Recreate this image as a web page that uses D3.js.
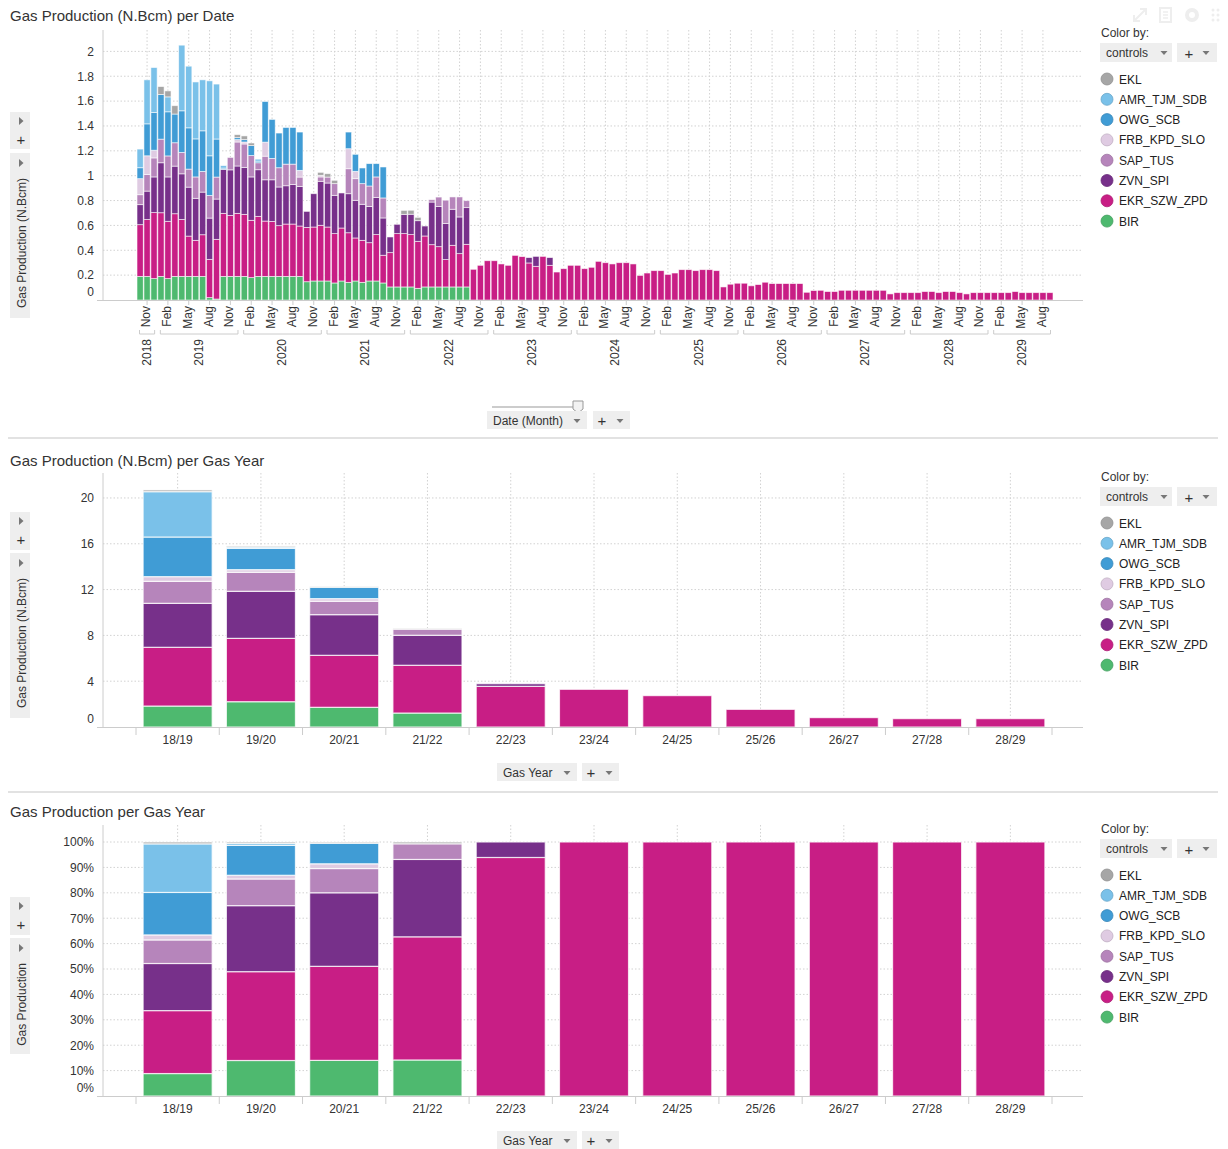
<!DOCTYPE html>
<html>
<head>
<meta charset="utf-8">
<script src="https://cdn.jsdelivr.net/npm/d3@7"></script>
<style>
  body { margin: 0; background: #fff; }
  svg text { font-family: "Liberation Sans", Arial, sans-serif; }
</style>
</head>
<body>
<svg id="chart" width="1228" height="1149"></svg>
<script>
// stacking order, bottom to top
const keys = ['BIR', 'EKR_SZW_ZPD', 'ZVN_SPI', 'SAP_TUS', 'FRB_KPD_SLO', 'OWG_SCB', 'AMR_TJM_SDB', 'EKL'];
const colors = {
    EKL: '#a6a6a6',
    AMR_TJM_SDB: '#7ac1e9',
    OWG_SCB: '#409cd5',
    FRB_KPD_SLO: '#dfcbe2',
    SAP_TUS: '#b685bb',
    ZVN_SPI: '#77308a',
    EKR_SZW_ZPD: '#c81e85',
    BIR: '#4eb96f'
};
const gasYears = ['18/19', '19/20', '20/21', '21/22', '22/23', '23/24', '24/25', '25/26', '26/27', '27/28', '28/29'];

// monthly production (N.Bcm), Oct 2018 .. Sep 2022
const birMonthly = [0.19, 0.19, 0.172, 0.19, 0.172, 0.19, 0.19, 0.19, 0.19, 0.19, 0.019, 0.008,
    0.19, 0.19, 0.19, 0.19, 0.18, 0.19, 0.19, 0.19, 0.19, 0.19, 0.19, 0.19,
    0.147, 0.153, 0.153, 0.153, 0.137, 0.153, 0.142, 0.153, 0.142, 0.153, 0.153, 0.137,
    0.105, 0.105, 0.105, 0.105, 0.094, 0.105, 0.105, 0.105, 0.105, 0.105, 0.105, 0.105];
const ekrMonthly = [0.416, 0.458, 0.531, 0.512, 0.461, 0.504, 0.458, 0.324, 0.29, 0.335, 0.308, 0.48,
    0.507, 0.49, 0.507, 0.499, 0.461, 0.483, 0.445, 0.442, 0.408, 0.421, 0.421, 0.405,
    0.437, 0.434, 0.448, 0.434, 0.397, 0.426, 0.399, 0.346, 0.338, 0.308, 0.373, 0.223,
    0.276, 0.429, 0.429, 0.421, 0.378, 0.41, 0.34, 0.324, 0.22, 0.335, 0.268, 0.343];
const zvnMonthly = [0.161, 0.228, 0.287, 0.402, 0.357, 0.383, 0.367, 0.394, 0.338, 0.343, 0.332, 0.324,
    0.354, 0.367, 0.381, 0.378, 0.349, 0.375, 0.332, 0.335, 0.311, 0.308, 0.319, 0.319,
    0.129, 0.268, 0.354, 0.354, 0.308, 0.282, 0.314, 0.303, 0.29, 0.292, 0.298, 0.30,
    0.126, 0.075, 0.155, 0.164, 0.166, 0.08, 0.343, 0.324, 0.29, 0.29, 0.295, 0.295];
const sapMonthly = [0.08, 0.134, 0.153, 0.19, 0.169, 0.188, 0.172, 0.145, 0.172, 0.166, 0.182, 0.177,
    0, 0.10, 0.193, 0.188, 0.172, 0.056, 0.19, 0.172, 0.155, 0.174, 0.163, 0.075,
    0, 0, 0.035, 0.048, 0.094, 0, 0.201, 0.174, 0.166, 0.164, 0.166, 0.161,
    0, 0, 0, 0, 0, 0, 0.019, 0.075, 0.188, 0.099, 0.161, 0.056];
const frbMonthly = [0.129, 0.15, 0.062, 0, 0, 0, 0, 0, 0, 0, 0, 0,
    0, 0, 0.019, 0.016, 0, 0, 0.113, 0, 0, 0, 0, 0.054,
    0, 0, 0.013, 0, 0, 0, 0.161, 0.059, 0, 0, 0, 0,
    0, 0, 0, 0, 0, 0, 0, 0, 0, 0, 0, 0];
const owgMonthly = [0.088, 0.257, 0.303, 0.359, 0.355, 0.231, 0.335, 0.332, 0.306, 0.327, 0.319, 0.306,
    0.01, 0, 0.016, 0.019, 0.08, 0.013, 0.327, 0.314, 0.279, 0.295, 0.295, 0.308,
    0, 0, 0, 0, 0, 0, 0.134, 0.137, 0.126, 0.18, 0.107, 0.249,
    0, 0, 0, 0, 0, 0, 0, 0, 0, 0, 0, 0];
const amrMonthly = [0.15, 0.354, 0.362, 0, 0.12, 0, 0.528, 0.496, 0.458, 0.41, 0.603, 0.442,
    0.02, 0, 0, 0, 0, 0.016, 0, 0, 0, 0, 0, 0,
    0, 0, 0, 0, 0, 0, 0, 0, 0, 0, 0, 0,
    0, 0, 0, 0, 0, 0, 0, 0, 0, 0, 0, 0];
const eklMonthly = [0, 0, 0, 0.064, 0.048, 0.067, 0, 0, 0, 0, 0, 0,
    0, 0, 0.024, 0.03, 0.021, 0, 0, 0, 0, 0, 0, 0,
    0, 0, 0.024, 0.027, 0.027, 0, 0, 0, 0, 0, 0, 0,
    0, 0, 0.032, 0.032, 0.027, 0, 0, 0, 0, 0, 0, 0];
// Oct 2022 .. Sep 2029, only EKR_SZW_ZPD and ZVN_SPI left
const ekrTail = [0.247, 0.279, 0.316, 0.316, 0.29, 0.279, 0.359, 0.349, 0.298, 0.271, 0.351, 0.279,
    0.225, 0.252, 0.279, 0.279, 0.252, 0.263, 0.311, 0.30, 0.29, 0.30, 0.30, 0.29,
    0.198, 0.217, 0.236, 0.236, 0.206, 0.217, 0.244, 0.244, 0.236, 0.244, 0.244, 0.236,
    0.105, 0.127, 0.135, 0.135, 0.114, 0.124, 0.143, 0.132, 0.132, 0.132, 0.132, 0.132,
    0.062, 0.076, 0.078, 0.068, 0.068, 0.078, 0.078, 0.078, 0.078, 0.078, 0.078, 0.078,
    0.049, 0.059, 0.059, 0.059, 0.059, 0.068, 0.068, 0.059, 0.068, 0.068, 0.059, 0.049,
    0.059, 0.059, 0.059, 0.059, 0.059, 0.059, 0.068, 0.059, 0.059, 0.059, 0.059, 0.059];
const zvnTail = [0, 0, 0, 0, 0, 0, 0, 0, 0.043, 0.08, 0, 0.062];

// gas year totals (N.Bcm)
const birYear = [1.83, 2.21, 1.72, 1.22, 0, 0, 0, 0, 0, 0, 0];
const ekrYear = [5.13, 5.53, 4.54, 4.17, 3.55, 3.29, 2.74, 1.54, 0.82, 0.73, 0.73];
const zvnYear = [3.84, 4.11, 3.55, 2.62, 0.23, 0, 0, 0, 0, 0, 0];
const sapYear = [1.92, 1.66, 1.17, 0.53, 0, 0, 0, 0, 0, 0, 0];
const frbYear = [0.41, 0.23, 0.23, 0, 0, 0, 0, 0, 0, 0, 0];
const owgYear = [3.46, 1.86, 0.99, 0, 0, 0, 0, 0, 0, 0, 0];
const amrYear = [3.96, 0.12, 0, 0, 0, 0, 0, 0, 0, 0, 0];
const eklYear = [0.15, 0.09, 0.06, 0.06, 0, 0, 0, 0, 0, 0, 0];

const early = {BIR: birMonthly, EKR_SZW_ZPD: ekrMonthly, ZVN_SPI: zvnMonthly, SAP_TUS: sapMonthly,
    FRB_KPD_SLO: frbMonthly, OWG_SCB: owgMonthly, AMR_TJM_SDB: amrMonthly, EKL: eklMonthly};
const yearly = {BIR: birYear, EKR_SZW_ZPD: ekrYear, ZVN_SPI: zvnYear, SAP_TUS: sapYear,
    FRB_KPD_SLO: frbYear, OWG_SCB: owgYear, AMR_TJM_SDB: amrYear, EKL: eklYear};

const months = d3.timeMonth.range(new Date(2018, 9, 1), new Date(2029, 9, 1));
const monthRows = months.map((m, i) => {
    const row = {date: m, i: i};
    keys.forEach(k => {
        if (i < 48) row[k] = early[k][i];
        else if (k === 'EKR_SZW_ZPD') row[k] = ekrTail[i - 48];
        else if (k === 'ZVN_SPI') row[k] = zvnTail[i - 48] || 0;
        else row[k] = 0;
    });
    return row;
});
const yearRows = gasYears.map((gy, i) => {
    const row = {gy: gy};
    keys.forEach(k => row[k] = yearly[k][i]);
    return row;
});

const svg = d3.select('#chart');
const plotLeft = 103, plotRight = 1083;
const gridColor = '#d2d2d2';
const axisColor = '#cccccc';
const textColor = '#333';

function downTri(x, y) {
    svg.append('path').attr('d', `M${x - 3.5},${y - 2}L${x + 3.5},${y - 2}L${x},${y + 2}Z`).attr('fill', '#777');
}
function rightTri(x, y) {
    svg.append('path').attr('d', `M${x - 2},${y - 4}L${x + 2.5},${y}L${x - 2},${y + 4}Z`).attr('fill', '#777');
}
function button(x, y, w, label) {
    svg.append('rect').attr('x', x).attr('y', y).attr('width', w).attr('height', 18).attr('fill', '#eeeeee');
    svg.append('text').attr('x', x + 6).attr('y', y + 13.5).attr('font-size', 12).attr('fill', textColor).text(label);
    downTri(x + w - 10, y + 10);
}
function plusButton(x, y) {
    svg.append('rect').attr('x', x).attr('y', y).attr('width', 37).attr('height', 18).attr('fill', '#eeeeee');
    svg.append('text').attr('x', x + 9).attr('y', y + 14.5).attr('font-size', 15).attr('text-anchor', 'middle').attr('fill', textColor).text('+');
    downTri(x + 27, y + 10);
}

function chrome(cfg) {
    svg.append('text').attr('x', 10).attr('y', cfg.titleY).attr('font-size', 15).attr('fill', textColor).text(cfg.title);

    // left shelf
    svg.append('rect').attr('x', 10).attr('y', cfg.box1[0]).attr('width', 20).attr('height', cfg.box1[1] - cfg.box1[0]).attr('fill', '#eeeeee');
    rightTri(21, cfg.box1[0] + 9);
    svg.append('text').attr('x', 21).attr('y', cfg.box1[0] + 33).attr('font-size', 15).attr('text-anchor', 'middle').attr('fill', textColor).text('+');
    svg.append('rect').attr('x', 10).attr('y', cfg.box2[0]).attr('width', 20).attr('height', cfg.box2[1] - cfg.box2[0]).attr('fill', '#eeeeee');
    rightTri(21, cfg.box2[0] + 10);
    svg.append('text')
        .attr('transform', `translate(25.5,${cfg.box2[0] + 25}) rotate(-90)`)
        .attr('text-anchor', 'end').attr('font-size', 12).attr('fill', textColor)
        .text(cfg.yLabel);

    // legend
    const ly = cfg.legendY;
    svg.append('text').attr('x', 1101).attr('y', ly).attr('font-size', 12).attr('fill', textColor).text('Color by:');
    svg.append('rect').attr('x', 1100).attr('y', ly + 6).attr('width', 72).attr('height', 19).attr('fill', '#eeeeee');
    svg.append('text').attr('x', 1106).attr('y', ly + 20).attr('font-size', 12).attr('fill', textColor).text('controls');
    downTri(1164, ly + 16);
    svg.append('rect').attr('x', 1177).attr('y', ly + 6).attr('width', 40).attr('height', 19).attr('fill', '#eeeeee');
    svg.append('text').attr('x', 1189).attr('y', ly + 21.5).attr('font-size', 15).attr('text-anchor', 'middle').attr('fill', textColor).text('+');
    downTri(1206, ly + 16);

    const items = keys.slice().reverse();
    const leg = svg.append('g').selectAll('g').data(items).join('g')
        .attr('transform', (d, i) => `translate(1107,${ly + 42 + i * 20.3})`);
    leg.append('circle').attr('r', 6)
        .attr('fill', d => colors[d])
        .attr('stroke', d => d3.color(colors[d]).darker(0.4))
        .attr('stroke-width', 0.8);
    leg.append('text').attr('x', 12).attr('y', 4.5).attr('font-size', 12).attr('fill', '#222').text(d => d);
}

function yAxis(y, ticks, fmt) {
    svg.append('g').selectAll('line').data(ticks.filter(d => d !== 0)).join('line')
        .attr('x1', plotLeft).attr('x2', plotRight)
        .attr('y1', d => y(d)).attr('y2', d => y(d))
        .attr('stroke', gridColor).attr('stroke-dasharray', '1.5,2');
    const g = svg.append('g').attr('transform', `translate(${plotLeft},0)`)
        .call(d3.axisLeft(y).tickValues(ticks).tickFormat(fmt).tickSize(0).tickPadding(9));
    g.select('.domain').remove();
    g.selectAll('text')
        .attr('font-size', 12).attr('fill', textColor)
        .attr('font-family', '"Liberation Sans", Arial, sans-serif');
    g.selectAll('.tick').filter(d => d === 0).select('text').attr('y', -8);
}

function frameLines(y0, top) {
    svg.append('line').attr('x1', plotLeft).attr('x2', plotLeft).attr('y1', top).attr('y2', y0).attr('stroke', axisColor);
    svg.append('line').attr('x1', 97).attr('x2', plotRight).attr('y1', y0 + 0.5).attr('y2', y0 + 0.5).attr('stroke', axisColor);
}

// faint toolbar in the top right corner
const ic = '#eeeeee';
svg.append('path').attr('d', 'M1134,21L1146,9M1140,9H1146V15M1134,15V21H1140').attr('fill', 'none').attr('stroke', ic).attr('stroke-width', 2);
svg.append('rect').attr('x', 1160).attr('y', 8).attr('width', 11).attr('height', 14).attr('fill', 'none').attr('stroke', ic).attr('stroke-width', 2);
svg.append('path').attr('d', 'M1163,12H1168M1163,15H1168M1163,18H1168').attr('stroke', ic).attr('stroke-width', 1.5);
svg.append('circle').attr('cx', 1192).attr('cy', 15).attr('r', 5).attr('fill', 'none').attr('stroke', ic).attr('stroke-width', 4);
svg.append('g').selectAll('circle').data(d3.range(6)).join('circle')
    .attr('cx', d => 1213 + (d % 2) * 5).attr('cy', d => 10 + Math.floor(d / 2) * 5).attr('r', 1.5).attr('fill', ic);

// ---------- panel 1: per month ----------
chrome({title: 'Gas Production (N.Bcm) per Date', titleY: 21, box1: [112, 149], box2: [153, 318],
    yLabel: 'Gas Production (N.Bcm)', legendY: 37});

const xM = d3.scaleBand().domain(d3.range(months.length)).range([137, 1053]).paddingInner(0.1);
const yM = d3.scaleLinear().domain([0, 2.172]).range([300, 30]);
const bwM = xM.bandwidth();
const labelled = monthRows.filter(d => d.i % 3 === 1);

svg.append('g').selectAll('line').data(labelled).join('line')
    .attr('x1', d => xM(d.i) + bwM / 2).attr('x2', d => xM(d.i) + bwM / 2)
    .attr('y1', 30).attr('y2', 300)
    .attr('stroke', gridColor).attr('stroke-dasharray', '1.5,2');
yAxis(yM, d3.range(11).map(k => k / 5), d3.format('~g'));

const stackM = d3.stack().keys(keys)(monthRows);
svg.append('g').selectAll('g').data(stackM).join('g')
    .attr('fill', d => colors[d.key])
    .selectAll('rect').data(d => d.filter(s => s[1] - s[0] > 0.0005)).join('rect')
    .attr('x', d => xM(d.data.i))
    .attr('y', d => yM(d[1]))
    .attr('width', bwM)
    .attr('height', d => yM(d[0]) - yM(d[1]))
    .attr('stroke', 'rgba(255,255,255,0.7)')
    .attr('stroke-width', 0.8);
frameLines(300, 30);

// month ticks and labels
svg.append('g').selectAll('line').data(labelled).join('line')
    .attr('x1', d => xM(d.i) + bwM / 2).attr('x2', d => xM(d.i) + bwM / 2)
    .attr('y1', 300).attr('y2', 305).attr('stroke', axisColor);
svg.append('g').selectAll('text').data(labelled).join('text')
    .attr('transform', d => `translate(${xM(d.i) + bwM / 2 + 3},306) rotate(-90)`)
    .attr('text-anchor', 'end').attr('font-size', 12).attr('fill', textColor)
    .text(d => d3.timeFormat('%b')(d.date));

// year brackets
const yearGroups = d3.groups(monthRows, d => d.date.getFullYear());
const yg = svg.append('g').selectAll('g').data(yearGroups).join('g');
yg.append('path')
    .attr('d', d => {
        const a = xM(d[1][0].i) + 2.5, b = xM(d[1][d[1].length - 1].i) + bwM - 2.5;
        return `M${a},330V334H${b}V330`;
    })
    .attr('fill', 'none').attr('stroke', axisColor);
yg.append('text')
    .attr('transform', d => {
        const a = xM(d[1][0].i), b = xM(d[1][d[1].length - 1].i) + bwM;
        return `translate(${(a + b) / 2 + 3.5},339) rotate(-90)`;
    })
    .attr('text-anchor', 'end').attr('font-size', 12).attr('fill', textColor)
    .text(d => d[0]);

// slider + buttons
svg.append('line').attr('x1', 492).attr('x2', 578).attr('y1', 407).attr('y2', 407).attr('stroke', '#cccccc').attr('stroke-width', 2);
svg.append('path').attr('d', 'M573,401H583V409L578,413L573,409Z').attr('fill', '#f2f2f2').attr('stroke', '#999');
button(487, 411, 100, 'Date (Month)');
plusButton(593, 411);

svg.append('line').attr('x1', 8).attr('x2', 1218).attr('y1', 438).attr('y2', 438).attr('stroke', '#e2e2e2').attr('stroke-width', 2);
svg.append('line').attr('x1', 8).attr('x2', 1218).attr('y1', 792).attr('y2', 792).attr('stroke', '#e2e2e2').attr('stroke-width', 2);

// ---------- panels 2 and 3: per gas year ----------
const xY = d3.scaleBand().domain(gasYears).range([136, 1052]).paddingInner(0.171).paddingOuter(0.0855);
const stepY = xY.step();

function yearPanel(cfg) {
    chrome(cfg);
    const y = cfg.y;
    const y0 = y(0);
    svg.append('g').selectAll('line').data(gasYears).join('line')
        .attr('x1', d => xY(d) + xY.bandwidth() / 2).attr('x2', d => xY(d) + xY.bandwidth() / 2)
        .attr('y1', cfg.top).attr('y2', y0)
        .attr('stroke', gridColor).attr('stroke-dasharray', '1.5,2');
    yAxis(y, cfg.ticks, cfg.fmt);

    svg.append('g').selectAll('g').data(cfg.stack).join('g')
        .attr('fill', d => colors[d.key])
        .selectAll('rect').data(d => d.filter(s => s[1] - s[0] > 0.00001)).join('rect')
        .attr('x', d => xY(d.data.gy))
        .attr('y', d => y(d[1]))
        .attr('width', xY.bandwidth())
        .attr('height', d => y(d[0]) - y(d[1]))
        .attr('stroke', 'rgba(255,255,255,0.75)')
        .attr('stroke-width', 1.2);
    frameLines(y0, cfg.top);

    svg.append('g').selectAll('line').data(d3.range(gasYears.length + 1)).join('line')
        .attr('x1', k => 136 + k * stepY).attr('x2', k => 136 + k * stepY)
        .attr('y1', y0).attr('y2', y0 + 8).attr('stroke', axisColor);
    svg.append('g').selectAll('text').data(gasYears).join('text')
        .attr('x', d => xY(d) + xY.bandwidth() / 2)
        .attr('y', y0 + 17)
        .attr('text-anchor', 'middle').attr('font-size', 12).attr('fill', textColor)
        .text(d => d);

    button(497, cfg.buttonY, 80, 'Gas Year');
    plusButton(582, cfg.buttonY);
}

yearPanel({
    title: 'Gas Production (N.Bcm) per Gas Year', titleY: 466,
    box1: [512, 550], box2: [553, 718], yLabel: 'Gas Production (N.Bcm)', legendY: 481,
    y: d3.scaleLinear().domain([0, 22.18]).range([727, 473]), top: 473,
    ticks: [0, 4, 8, 12, 16, 20], fmt: d3.format('~g'),
    stack: d3.stack().keys(keys)(yearRows),
    buttonY: 763
});

yearPanel({
    title: 'Gas Production per Gas Year', titleY: 817,
    box1: [897, 935], box2: [938, 1054], yLabel: 'Gas Production', legendY: 833,
    y: d3.scaleLinear().domain([0, 1.067]).range([1096, 825]), top: 825,
    ticks: d3.range(11).map(k => k / 10), fmt: d3.format('.0%'),
    stack: d3.stack().keys(keys).offset(d3.stackOffsetExpand)(yearRows),
    buttonY: 1131
});
</script>
</body>
</html>
